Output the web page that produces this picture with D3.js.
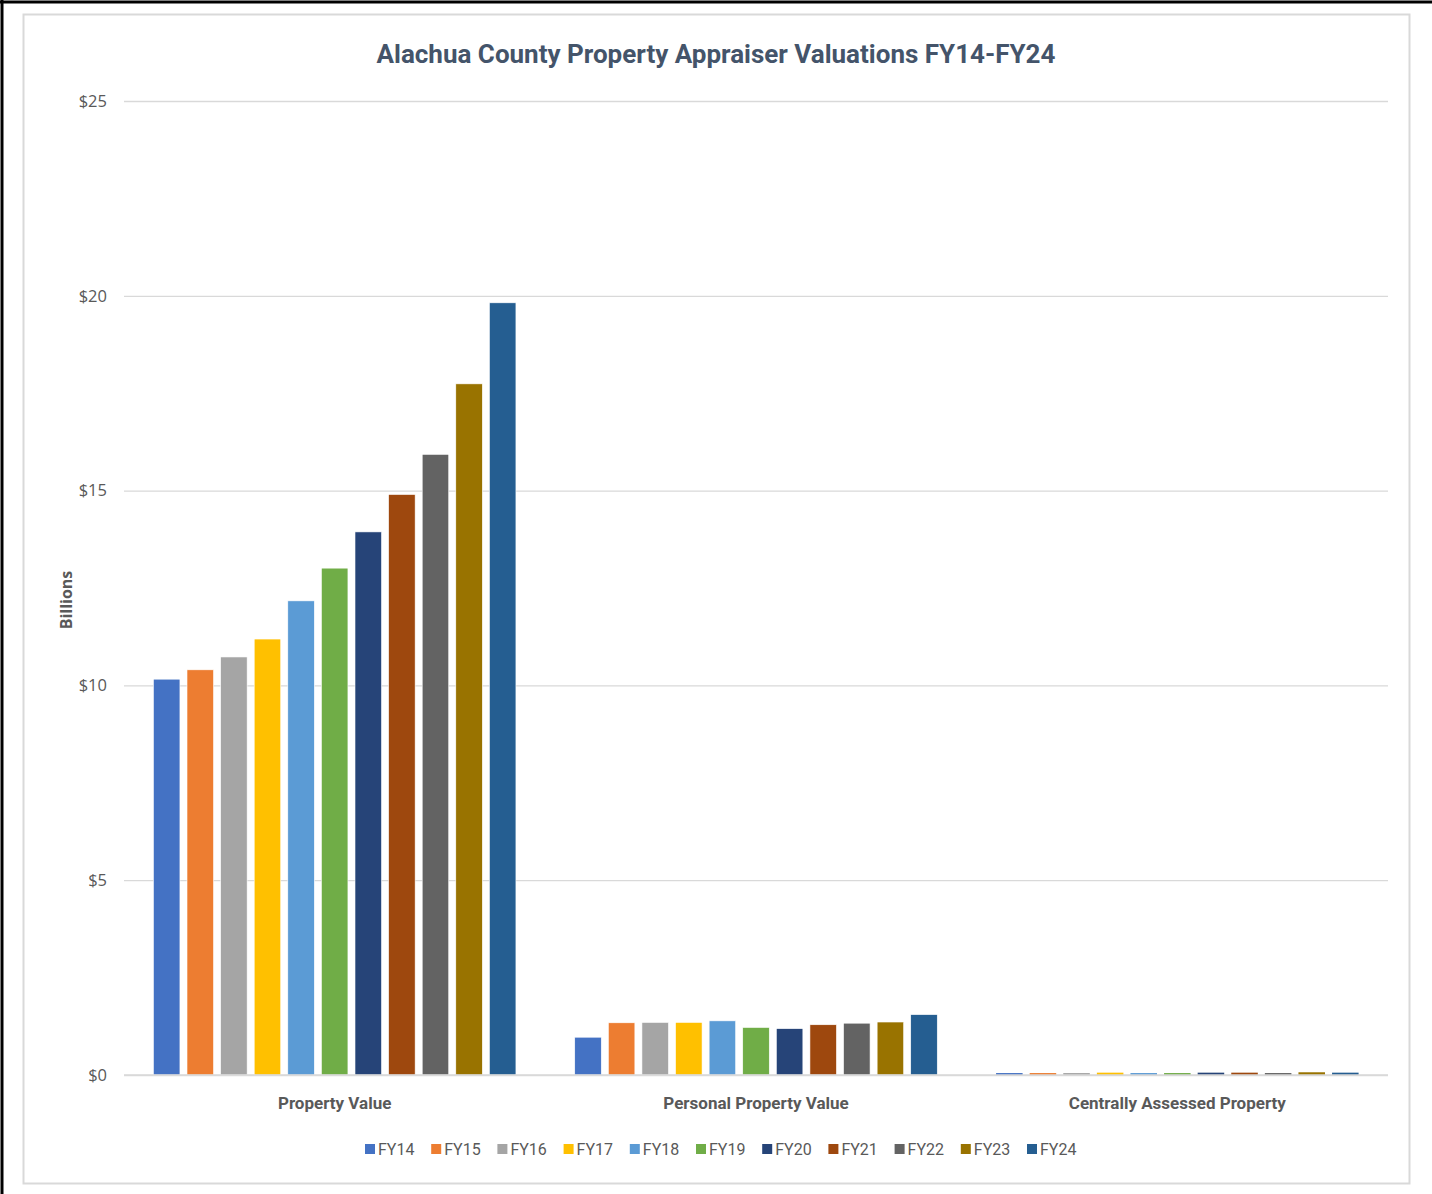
<!DOCTYPE html>
<html>
<head>
<meta charset="utf-8">
<script src="https://cdnjs.cloudflare.com/ajax/libs/d3/7.8.5/d3.min.js"></script>
<style>
  body { margin: 0; background: #fff; }
  svg { display: block; }
</style>
</head>
<body>
<div class="container"></div>
<script>
// data (billions of dollars)
var categories = ["Property Value", "Personal Property Value", "Centrally Assessed Property"];
var years = ["FY14", "FY15", "FY16", "FY17", "FY18", "FY19", "FY20", "FY21", "FY22", "FY23", "FY24"];
var propertyValue = [10.16, 10.40, 10.73, 11.19, 12.17, 13.01, 13.94, 14.90, 15.93, 17.74, 19.82];
var personalValue = [0.97, 1.34, 1.35, 1.35, 1.39, 1.22, 1.19, 1.29, 1.33, 1.36, 1.55];
var centralValue  = [0.05, 0.05, 0.05, 0.06, 0.05, 0.05, 0.06, 0.06, 0.05, 0.07, 0.06];
var yTicks = [0, 5, 10, 15, 20, 25];
var colors = ["#4472C4", "#ED7D31", "#A5A5A5", "#FFC000", "#5B9BD5", "#70AD47",
              "#264478", "#9E480E", "#636363", "#997300", "#255E91"];

var series = [propertyValue, personalValue, centralValue];

var W = 1432, H = 1194;
var svg = d3.select(".container").append("svg")
  .attr("width", W)
  .attr("height", H);

// outer black frame (only top and left edges show)
svg.append("line").attr("x1", 0).attr("x2", W).attr("y1", 2).attr("y2", 2)
  .style("stroke", "#000").style("stroke-width", 3);
svg.append("line").attr("x1", 2).attr("x2", 2).attr("y1", 0).attr("y2", H)
  .style("stroke", "#000").style("stroke-width", 3);

// chart area border
svg.append("rect")
  .attr("x", 23.5).attr("y", 14.5).attr("width", 1386).attr("height", 1169)
  .style("fill", "#fff").style("stroke", "#D9D9D9").style("stroke-width", 2);

// plot box (don't call these top/left - window.top is taken)
var plotL = 124, plotR = 1388, plotT = 101, plotB = 1075;

var y = d3.scaleLinear().domain([0, 25]).range([plotB, plotT]);
var x0 = d3.scaleBand().domain(categories).range([plotL, plotR]).padding(0);
var x1 = d3.scaleBand().domain(years).range([0, x0.bandwidth()])
  .paddingInner(0.21).paddingOuter(0.875);

// gridlines + tick labels
var yAxis = d3.axisLeft(y).tickValues(yTicks).tickSize(-(plotR - plotL))
  .tickFormat(function(d) { return "$" + d; }).tickPadding(17);
var gy = svg.append("g").attr("transform", "translate(" + plotL + ",0)").call(yAxis);
gy.select(".domain").remove();
gy.selectAll(".tick line").style("stroke", "#D9D9D9").style("stroke-width", 1.3);
gy.selectAll(".tick text")
  .style("font-family", "'Open Sans', 'Liberation Sans', sans-serif")
  .style("font-size", "16.5px")
  .style("fill", "#595959");

// bars
var groups = svg.selectAll("g.cat")
  .data(categories)
  .enter().append("g")
  .attr("class", "cat")
  .attr("transform", function(d) { return "translate(" + x0(d) + ",0)"; });

groups.selectAll("rect")
  .data(function(d, i) {
    return years.map(function(yr, j) { return {year: yr, value: series[i][j], idx: j}; });
  })
  .enter().append("rect")
  .attr("x", function(d) { return x1(d.year); })
  .attr("width", x1.bandwidth())
  .attr("y", function(d) { return y(d.value); })
  .attr("height", function(d) { return plotB - y(d.value); })
  .style("fill", function(d) { return colors[d.idx]; })
  .style("stroke", "#fff")
  .style("stroke-width", function(d) { return d.value < 0.5 ? 0 : 0.6; });

// baseline
svg.append("line")
  .attr("x1", plotL).attr("x2", plotR).attr("y1", plotB).attr("y2", plotB)
  .style("stroke", "#D9D9D9").style("stroke-width", 1.5);

// category labels
var xAxis = d3.axisBottom(x0).tickSize(0).tickPadding(22);
var gx = svg.append("g").attr("transform", "translate(0," + plotB + ")").call(xAxis);
gx.select(".domain").remove();
gx.selectAll(".tick text")
  .style("font-family", "Roboto, sans-serif")
  .style("font-weight", "bold")
  .style("font-size", "17px")
  .style("fill", "#595959");

// title
svg.append("text")
  .attr("x", 716).attr("y", 63)
  .attr("text-anchor", "middle")
  .style("font-family", "Roboto, sans-serif")
  .style("font-weight", "bold")
  .style("font-size", "26px")
  .style("fill", "#44546A")
  .text("Alachua County Property Appraiser Valuations FY14-FY24");

// y axis title
svg.append("text")
  .attr("transform", "translate(72,600) rotate(-90)")
  .attr("text-anchor", "middle")
  .style("font-family", "'Open Sans', 'Liberation Sans', sans-serif")
  .style("font-weight", "bold")
  .style("font-size", "16px")
  .style("fill", "#595959")
  .text("Billions");

// legend
var legend = svg.append("g").attr("transform", "translate(365,1149)");
var item = legend.selectAll("g")
  .data(years)
  .enter().append("g")
  .attr("transform", function(d, i) { return "translate(" + (i * 66.2) + ",0)"; });
item.append("rect")
  .attr("x", 0).attr("y", -5).attr("width", 10).attr("height", 10)
  .style("fill", function(d, i) { return colors[i]; });
item.append("text")
  .attr("x", 13).attr("y", 6)
  .style("font-family", "Roboto, sans-serif")
  .style("font-size", "16px")
  .style("fill", "#595959")
  .text(function(d) { return d; });
</script>
</body>
</html>
